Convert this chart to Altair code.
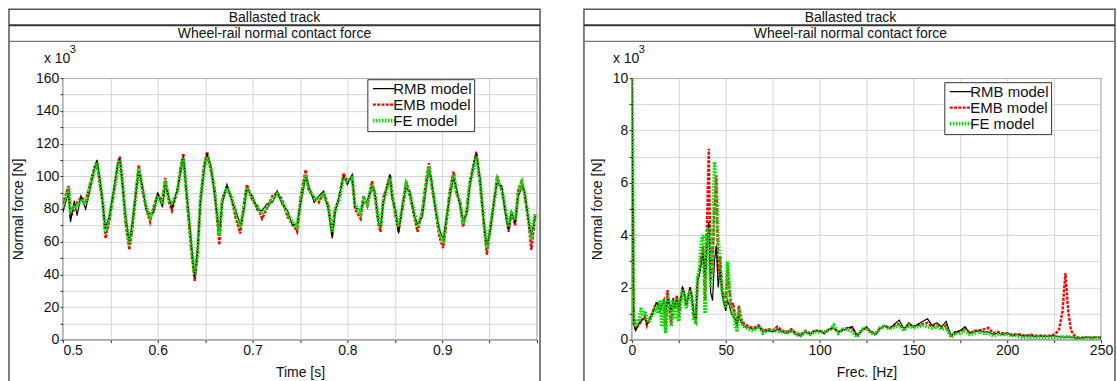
import altair as alt
import pandas as pd

FONT = "Liberation Sans"
PANEL_TITLE = "Ballasted track"
PANEL_SUBTITLE = "Wheel-rail normal contact force"
SCALE_BASE = "x 10"
SCALE_EXP = "3"
Y_TITLE = "Normal force [N]"
X_TITLE_TIME = "Time [s]"
X_TITLE_FREQ = "Frec. [Hz]"

SERIES = ["RMB model", "EMB model", "FE model"]
SERIES_COLORS = ["#000000", "#ff0000", "#00e000"]
SERIES_DASH = [[1, 0], [3, 1.3], [1.6, 1.4]]
SERIES_WIDTH = [1.2, 3.6, 1.6]
LAYER_ORDER = ["EMB model", "RMB model", "FE model"]

# ---- time domain (kN) ----
TIME = [0.500, 0.506, 0.508, 0.512, 0.515, 0.519, 0.524, 0.528, 0.533, 0.536,
        0.539, 0.542, 0.545, 0.549, 0.554, 0.558, 0.560, 0.563, 0.566, 0.570,
        0.573, 0.577, 0.580, 0.584, 0.588, 0.592, 0.596, 0.600, 0.605, 0.608,
        0.612, 0.615, 0.621, 0.625, 0.627, 0.629, 0.633, 0.636, 0.639, 0.642,
        0.645, 0.649, 0.652, 0.656, 0.660, 0.665, 0.668, 0.673, 0.678, 0.682,
        0.687, 0.691, 0.694, 0.700, 0.705, 0.710, 0.715, 0.721, 0.726, 0.731,
        0.737, 0.742, 0.747, 0.751, 0.756, 0.759, 0.765, 0.770, 0.775, 0.780,
        0.784, 0.787, 0.791, 0.796, 0.800, 0.805, 0.808, 0.814, 0.817, 0.821,
        0.826, 0.829, 0.833, 0.835, 0.838, 0.842, 0.845, 0.847, 0.851, 0.854,
        0.858, 0.862, 0.866, 0.871, 0.874, 0.879, 0.883, 0.886, 0.889, 0.893,
        0.897, 0.901, 0.904, 0.908, 0.912, 0.915, 0.919, 0.922, 0.926, 0.929,
        0.933, 0.936, 0.940, 0.944, 0.947, 0.951, 0.955, 0.958, 0.963, 0.966,
        0.970, 0.973, 0.977, 0.980, 0.984, 0.987, 0.991, 0.994, 0.998]

RMB_T = [78, 90, 72, 85, 76, 88, 80, 90, 104, 110,
         99, 83, 68, 76, 93, 108, 111, 93, 77, 60,
         71, 90, 103, 94, 79, 77, 78, 90, 81, 95,
         87, 80, 93, 105, 112, 100, 75, 56, 38, 56,
         83, 104, 114, 107, 88, 66, 83, 95, 85, 80,
         70, 79, 92, 88, 79, 79, 83, 84, 91, 83,
         79, 70, 71, 84, 99, 95, 84, 88, 91, 79,
         62, 77, 87, 100, 95, 101, 81, 79, 84, 85,
         93, 91, 71, 70, 83, 95, 101, 87, 79, 65,
         83, 93, 91, 75, 71, 75, 93, 104, 97, 79,
         68, 61, 73, 87, 99, 93, 81, 73, 77, 93,
         107, 114, 99, 71, 58, 67, 87, 96, 94, 79,
         67, 79, 71, 87, 94, 91, 73, 64, 75]

EMB_T = [83, 94, 75, 80, 84, 87, 85, 94, 105, 109,
         95, 84, 62, 73, 92, 108, 112, 96, 72, 55,
         67, 90, 107, 91, 80, 72, 82, 89, 85, 99,
         84, 79, 92, 108, 114, 98, 71, 51, 36, 52,
         86, 107, 115, 104, 92, 58, 86, 94, 86, 75,
         65, 83, 95, 85, 82, 74, 80, 88, 90, 86,
         75, 71, 66, 88, 104, 92, 87, 84, 90, 82,
         64, 80, 86, 102, 96, 100, 80, 74, 88, 82,
         97, 88, 70, 66, 87, 94, 101, 90, 75, 66,
         80, 97, 88, 74, 66, 79, 97, 108, 94, 80,
         63, 56, 70, 91, 103, 90, 84, 69, 80, 96,
         107, 115, 95, 70, 52, 70, 86, 100, 91, 82,
         66, 78, 70, 91, 98, 88, 72, 55, 76]

FE_T = [81, 93, 79, 82, 81, 86, 83, 92, 103, 108,
        97, 85, 66, 75, 91, 106, 110, 95, 75, 58,
        69, 89, 105, 92, 81, 75, 80, 88, 83, 97,
        85, 83, 91, 107, 111, 99, 73, 54, 40, 54,
        85, 105, 112, 105, 91, 64, 85, 93, 87, 78,
        69, 81, 93, 86, 81, 77, 81, 86, 89, 85,
        77, 72, 69, 86, 101, 93, 86, 86, 89, 81,
        66, 79, 85, 99, 97, 99, 83, 77, 86, 83,
        95, 89, 73, 69, 85, 93, 99, 89, 77, 69,
        81, 95, 89, 77, 69, 77, 95, 106, 95, 81,
        66, 59, 71, 89, 101, 91, 83, 71, 79, 95,
        105, 112, 97, 73, 56, 69, 85, 98, 92, 81,
        69, 77, 73, 89, 96, 89, 75, 62, 77]

# ---- frequency domain (kN) ----
FREQ = [0, 1, 2, 3, 4, 5, 6, 7, 8, 9,
        10, 11, 12, 13, 14, 15, 16, 17, 18, 19,
        20, 21, 22, 23, 24, 25, 26, 27, 28, 29,
        30, 31, 32, 33, 34, 35, 36, 37, 38, 39,
        40, 41, 42, 43, 44, 45, 46, 47, 48, 49,
        50, 51, 52, 53, 54, 55, 56, 57, 58, 59,
        60, 62.5, 65, 67.5, 70, 72.5, 75, 77.5, 80, 82.5,
        85, 87.5, 90, 92.5, 95, 97.5, 100, 102.5, 105, 107.5,
        110, 112.5, 115, 117.5, 120, 122.5, 125, 127.5, 130, 132.5,
        135, 137.5, 140, 142.5, 145, 147.5, 150, 152.5, 155, 157.5,
        160, 162.5, 165, 167.5, 170, 172.5, 175, 177.5, 180, 182.5,
        185, 187.5, 190, 192.5, 195, 197.5, 200, 202.5, 205, 207.5,
        210, 212.5, 215, 217.5, 220, 222.5, 225, 227.5, 229.5, 231,
        232.5, 234, 236, 238, 240, 242.5, 245, 247.5, 250]

RMB_F = [10, 0.6, 0.35, 0.5, 0.65, 0.7, 0.8, 0.85, 0.6, 0.7,
         0.85, 1.0, 1.2, 1.4, 1.35, 1.1, 1.3, 1.45, 1.0, 1.6,
         1.4, 1.1, 1.5, 1.3, 1.6, 1.2, 1.6, 2.0, 1.8, 1.3,
         1.6, 2.0, 1.6, 1.0, 0.7, 2.2, 2.5, 2.9, 3.3, 2.4,
         3.5, 4.5, 1.8, 1.5, 3.0, 3.6, 2.0, 2.7, 1.8, 1.4,
         1.1, 1.5, 1.3, 1.0, 0.9, 0.8, 0.6, 0.9, 0.7, 0.6,
         0.5, 0.45, 0.4, 0.5, 0.3, 0.35, 0.3, 0.4, 0.3, 0.25,
         0.35, 0.2, 0.15, 0.3, 0.2, 0.35, 0.35, 0.25, 0.4, 0.45,
         0.3, 0.35, 0.45, 0.5, 0.15, 0.35, 0.5, 0.3, 0.2, 0.45,
         0.55, 0.45, 0.6, 0.75, 0.4, 0.65, 0.5, 0.6, 0.7, 0.8,
         0.55, 0.65, 0.5, 0.7, 0.15, 0.3, 0.35, 0.5, 0.25, 0.3,
         0.35, 0.3, 0.3, 0.2, 0.25, 0.2, 0.25, 0.15, 0.2, 0.15,
         0.15, 0.15, 0.12, 0.15, 0.12, 0.15, 0.15, 0.12, 0.1, 0.1,
         0.1, 0.1, 0.08, 0.05, 0.08, 0.1, 0.08, 0.1, 0.08]

EMB_F = [10, 0.6, 0.4, 0.5, 0.6, 0.75, 0.8, 0.9, 0.55, 0.75,
         0.9, 1.05, 1.25, 1.4, 1.4, 1.15, 1.35, 1.5, 0.5, 1.9,
         1.2, 0.6, 1.6, 1.2, 1.7, 0.9, 1.5, 2.0, 1.7, 1.3,
         1.6, 2.0, 1.7, 0.9, 0.6, 2.3, 2.6, 3.2, 3.6, 1.5,
         4.4, 7.3, 2.3, 3.0, 5.0, 6.3, 2.5, 3.2, 2.0, 1.6,
         1.3, 2.8, 1.9, 1.2, 1.4, 0.9, 0.5, 1.3, 0.8, 0.7,
         0.6, 0.5, 0.45, 0.55, 0.35, 0.4, 0.35, 0.5, 0.35, 0.3,
         0.4, 0.25, 0.2, 0.35, 0.25, 0.35, 0.35, 0.25, 0.4, 0.45,
         0.3, 0.4, 0.45, 0.45, 0.15, 0.35, 0.45, 0.3, 0.25, 0.45,
         0.5, 0.45, 0.55, 0.6, 0.4, 0.6, 0.5, 0.55, 0.6, 0.65,
         0.5, 0.55, 0.45, 0.55, 0.15, 0.3, 0.3, 0.45, 0.25, 0.35,
         0.35, 0.4, 0.45, 0.25, 0.3, 0.25, 0.25, 0.2, 0.2, 0.2,
         0.15, 0.2, 0.15, 0.15, 0.15, 0.15, 0.2, 0.35, 1.1, 2.55,
         1.1, 0.35, 0.15, 0.08, 0.08, 0.1, 0.08, 0.1, 0.08]

FE_F = [10, 0.8, 0.5, 0.8, 0.7, 1.25, 0.9, 1.1, 0.8, 0.65,
        0.8, 0.95, 1.1, 1.3, 1.0, 1.5, 0.5, 1.5, 0.25, 1.7,
        1.4, 0.5, 1.5, 0.8, 1.6, 0.7, 1.4, 1.9, 1.6, 1.2,
        1.7, 1.9, 1.5, 0.8, 0.7, 2.4, 2.7, 3.8, 4.0, 1.0,
        4.1, 4.3, 2.0, 3.2, 6.8, 5.8, 3.9, 2.9, 1.9, 1.5,
        1.2, 3.0, 2.0, 1.1, 1.1, 0.6, 0.3, 1.2, 0.8, 0.55,
        0.5, 0.4, 0.35, 0.5, 0.25, 0.35, 0.4, 0.3, 0.3, 0.25,
        0.35, 0.2, 0.15, 0.3, 0.2, 0.3, 0.3, 0.3, 0.35, 0.55,
        0.25, 0.4, 0.4, 0.3, 0.1, 0.4, 0.45, 0.25, 0.2, 0.5,
        0.5, 0.4, 0.5, 0.55, 0.35, 0.55, 0.45, 0.5, 0.55, 0.5,
        0.45, 0.5, 0.4, 0.45, 0.1, 0.25, 0.25, 0.35, 0.2, 0.25,
        0.3, 0.25, 0.25, 0.15, 0.2, 0.2, 0.2, 0.15, 0.15, 0.1,
        0.1, 0.1, 0.1, 0.1, 0.1, 0.1, 0.1, 0.1, 0.1, 0.12,
        0.1, 0.12, 0.06, 0.05, 0.05, 0.08, 0.05, 0.08, 0.06]

TIME_TICKS = [0.5, 0.55, 0.6, 0.65, 0.7, 0.75, 0.8, 0.85, 0.9, 0.95, 1.0]
FORCE_TICKS = [0, 10, 20, 30, 40, 50, 60, 70, 80, 90, 100, 110, 120, 130, 140, 150, 160]
FREQ_TICKS = [0, 25, 50, 75, 100, 125, 150, 175, 200, 225, 250]
AMP_TICKS = [0, 1, 2, 3, 4, 5, 6, 7, 8, 9, 10]


def long_frame(xs, columns):
    rows = []
    for name, vals in columns.items():
        for x, v in zip(xs, vals):
            rows.append({"x": x, "value": v, "series": name})
    return pd.DataFrame(rows)


ONE = pd.DataFrame({"k": [0]})


def panel(df, x_axis, x_domain, y_axis, y_domain, width, height,
          legend_x, legend_y, frame_l, frame_r, title_x):
    legend = alt.Legend(title=None, orient="none", legendX=legend_x, legendY=legend_y,
                        symbolType="M-2.75,0H2.75", symbolSize=64, symbolOffset=7,
                        labelFont=FONT, labelFontSize=15, labelColor="#111",
                        labelExpr="datum.label + '  '",
                        rowPadding=0, padding=2, labelOffset=2, strokeColor="#333",
                        fillColor="white")
    x_enc = alt.X("x:Q", scale=alt.Scale(domain=x_domain, nice=False, zero=False), axis=x_axis)
    y_enc = alt.Y("value:Q", scale=alt.Scale(domain=y_domain, nice=False), axis=y_axis)
    layers = []
    frame = alt.Chart(ONE).mark_rect(fillOpacity=0, stroke="#555", strokeWidth=1.5).encode(
        x=alt.value(frame_l), x2=alt.value(frame_r), y=alt.value(-69), y2=alt.value(312))
    sep1 = alt.Chart(ONE).mark_rule(stroke="#333", strokeWidth=2).encode(
        x=alt.value(frame_l), x2=alt.value(frame_r), y=alt.value(-53))
    sep2 = alt.Chart(ONE).mark_rule(stroke="#777", strokeWidth=1.2).encode(
        x=alt.value(frame_l), x2=alt.value(frame_r), y=alt.value(-37))
    t1 = alt.Chart(ONE).mark_text(font=FONT, fontSize=14, color="#111", align="center",
                                  baseline="middle").encode(
        x=alt.value(title_x), y=alt.value(-60), text=alt.value(PANEL_TITLE))
    t2 = alt.Chart(ONE).mark_text(font=FONT, fontSize=14, color="#111", align="center",
                                  baseline="middle").encode(
        x=alt.value(title_x), y=alt.value(-44), text=alt.value(PANEL_SUBTITLE))
    s1 = alt.Chart(ONE).mark_text(font=FONT, fontSize=14, color="#111", align="left",
                                  baseline="middle").encode(
        x=alt.value(-19), y=alt.value(-19), text=alt.value(SCALE_BASE))
    s2 = alt.Chart(ONE).mark_text(font=FONT, fontSize=11, color="#111", align="left",
                                  baseline="middle").encode(
        x=alt.value(7), y=alt.value(-28), text=alt.value(SCALE_EXP))
    layers += [frame, sep1, sep2, t1, t2, s1, s2]
    for name in LAYER_ORDER:
        layers.append(
            alt.Chart(df).transform_filter(alt.datum.series == name)
            .mark_line(clip=True, strokeCap="butt")
            .encode(
                x=x_enc, y=y_enc,
                color=alt.Color("series:N", scale=alt.Scale(domain=SERIES, range=SERIES_COLORS), legend=legend),
                strokeDash=alt.StrokeDash("series:N", scale=alt.Scale(domain=SERIES, range=SERIES_DASH), legend=legend),
                strokeWidth=alt.StrokeWidth("series:N", scale=alt.Scale(domain=SERIES, range=SERIES_WIDTH), legend=legend),
            )
        )
    return alt.layer(*layers).properties(width=width, height=height)


common_axis = dict(grid=True, gridColor="#d6d6d6", gridWidth=1, tickColor="#333",
                   tickSize=3, domain=False, labelFont=FONT, titleFont=FONT,
                   labelFontSize=14, titleFontSize=14, titleFontWeight="normal",
                   labelColor="#111", titleColor="#111", labelOverlap=False)

time_df = long_frame(TIME, {"RMB model": RMB_T, "EMB model": EMB_T, "FE model": FE_T})
freq_df = long_frame(FREQ, {"RMB model": RMB_F, "EMB model": EMB_F, "FE model": FE_F})

left = panel(
    time_df,
    alt.Axis(values=TIME_TICKS, title=X_TITLE_TIME, labelFlush=True, labelPadding=1, titlePadding=8,
             labelExpr="(round(datum.value*100) % 10 == 0 && datum.value < 0.99) ? format(datum.value, '.1f') : ''",
             **common_axis),
    [0.5, 1.0],
    alt.Axis(values=FORCE_TICKS, title=Y_TITLE, labelPadding=1, titlePadding=10,
             labelExpr="datum.value % 20 == 0 ? datum.label : ''", **common_axis),
    [0, 160], 475, 262, 305, 1, -54, 478, 212)

right = panel(
    freq_df,
    alt.Axis(values=FREQ_TICKS, title=X_TITLE_FREQ, labelFlush=False, labelPadding=1, titlePadding=8,
             labelExpr="datum.value % 50 == 0 ? datum.label : ''", **common_axis),
    [0, 250],
    alt.Axis(values=AMP_TICKS, title=Y_TITLE, labelPadding=1, titlePadding=8,
             labelExpr="datum.value % 2 == 0 ? datum.label : ''", **common_axis),
    [0, 10], 470, 262, 313, 4, -48, 484, 219)

chart = (
    alt.hconcat(left, right, spacing=95, bounds="flush")
    .resolve_scale(color="independent", strokeDash="independent", strokeWidth="independent")
    .resolve_legend(color="independent", strokeDash="independent", strokeWidth="independent")
    .properties(padding={"left": 7, "top": 7, "right": 0, "bottom": 0}, background="white")
    .configure_view(stroke="#333", strokeWidth=1.2)
)

chart.save("out.html", embed_options={"renderer": "svg", "actions": False})
